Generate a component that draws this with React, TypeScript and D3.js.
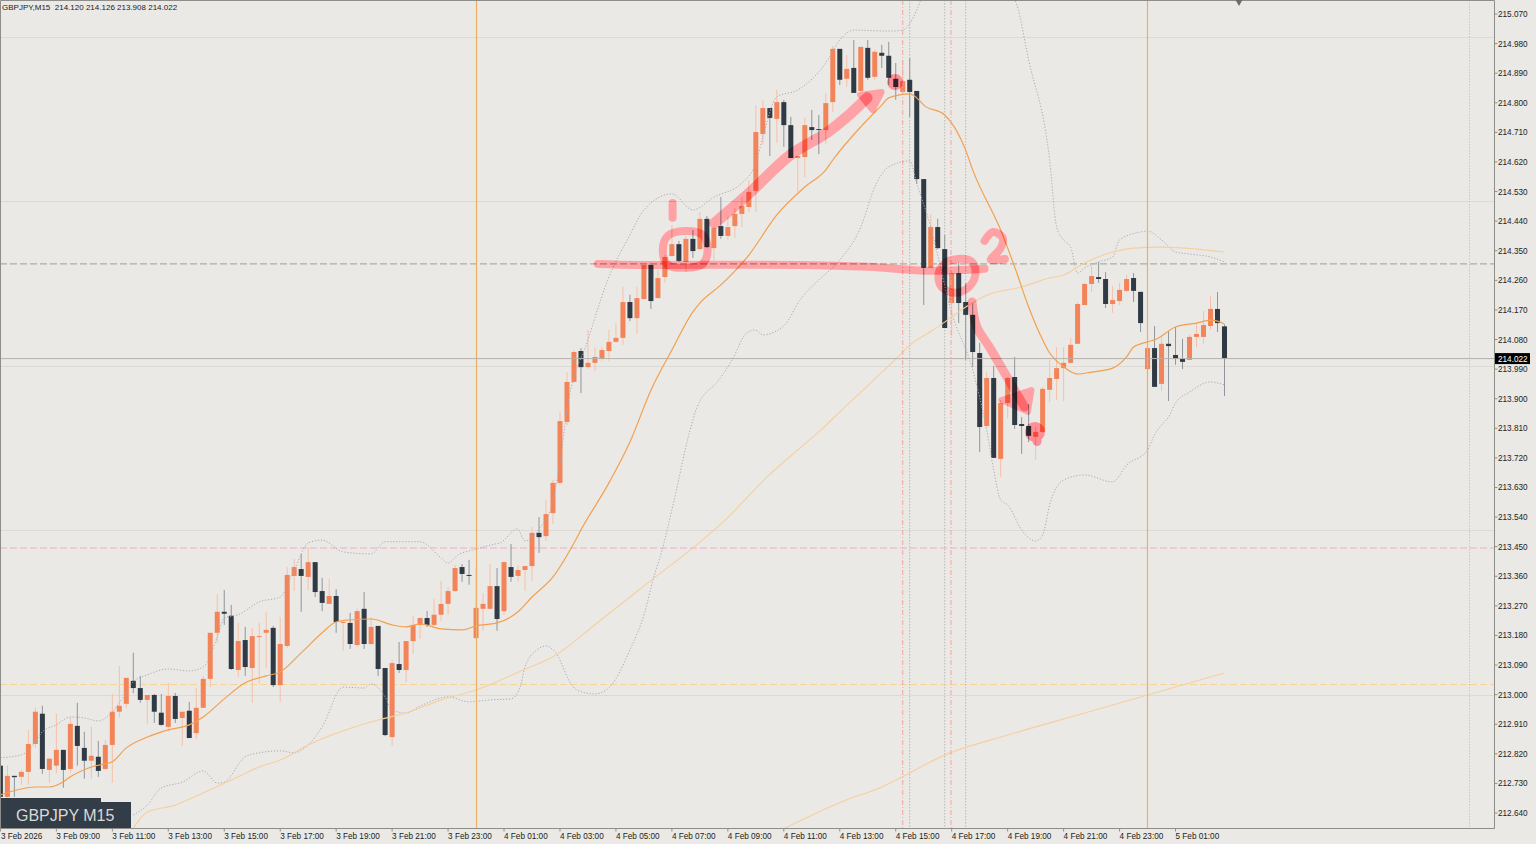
import * as d3 from 'd3'
import { useEffect, useRef } from 'react'

const WIDTH = 1536
const HEIGHT = 844
const PLOT_RIGHT = 1494.5
const PLOT_BOTTOM = 828.5

const BG = '#ebe9e5'
const BULL = '#f3845a'
const BEAR = '#2f3a45'
const PEN = '#ffa2a6'

const opens = [
  212.784,212.689,212.753,212.750,212.765,212.850,212.942,212.771,212.784,212.832,
  212.774,212.905,212.838,212.799,212.811,212.774,212.847,212.948,212.972,213.042,
  213.020,212.984,212.999,212.945,212.902,212.996,212.929,212.951,212.883,212.960,
  213.048,213.188,213.252,213.240,213.075,213.166,213.081,213.175,213.188,213.203,
  213.029,213.148,213.361,213.382,213.358,213.403,213.315,213.276,213.300,213.218,
  213.218,213.151,213.261,213.154,213.209,213.081,212.871,213.093,213.075,213.163,
  213.212,213.233,213.212,213.243,213.276,213.315,213.388,213.364,213.172,213.261,
  213.261,213.330,213.254,213.388,213.361,213.379,213.391,213.492,213.482,213.552,
  213.644,213.829,213.951,214.045,213.996,214.009,214.021,214.045,214.073,214.085,
  214.194,214.145,214.203,214.307,214.206,214.270,214.334,214.370,214.316,214.386,
  214.355,214.447,214.358,214.425,214.395,214.425,214.462,214.483,214.532,214.705,
  214.784,214.751,214.802,214.732,214.632,214.635,214.726,214.720,214.717,214.802,
  214.964,214.873,214.906,214.836,214.967,214.879,214.952,214.943,214.873,214.833,
  214.870,214.836,214.568,214.298,214.422,214.355,214.191,214.282,214.194,214.155,
  214.039,213.817,213.963,213.717,213.887,213.966,213.823,213.817,213.784,213.799,
  213.927,213.960,213.993,214.009,214.067,214.185,214.249,214.270,214.264,214.188,
  214.197,214.228,214.267,214.225,213.990,214.054,213.945,214.067,214.033,214.021,
  214.018,214.088,214.088,214.121,214.173,214.120,
]
const highs = [
  212.802,212.784,212.753,212.771,212.893,212.960,212.966,212.808,212.942,212.832,
  212.932,212.975,212.887,212.902,212.859,212.862,213.002,213.087,213.051,213.127,
  213.057,212.999,213.002,213.002,213.036,213.005,212.948,212.978,213.020,213.057,
  213.188,213.306,213.318,213.273,213.218,213.206,213.203,213.218,213.252,213.209,
  213.236,213.388,213.413,213.428,213.449,213.403,213.355,213.352,213.321,213.227,
  213.249,213.261,213.312,213.236,213.209,213.081,213.106,213.160,213.163,213.240,
  213.233,213.254,213.291,213.346,213.327,213.394,213.397,213.410,213.388,213.309,
  213.397,213.385,213.403,213.458,213.394,213.391,213.510,213.540,213.592,213.653,
  213.860,213.981,214.048,214.054,214.109,214.057,214.057,214.109,214.130,214.240,
  214.216,214.240,214.307,214.307,214.292,214.337,214.428,214.380,214.395,214.413,
  214.468,214.456,214.422,214.513,214.453,214.480,214.513,214.565,214.793,214.809,
  214.784,214.839,214.809,214.757,214.638,214.754,214.778,214.763,214.830,214.973,
  214.964,214.945,214.991,214.970,214.991,214.961,214.976,214.985,214.921,214.930,
  214.936,214.836,214.568,214.459,214.447,214.398,214.285,214.313,214.252,214.191,
  214.070,213.981,214.000,213.896,213.966,214.027,213.844,213.884,213.814,213.936,
  214.018,214.057,214.057,214.085,214.194,214.252,214.304,214.316,214.285,214.243,
  214.252,214.276,214.282,214.225,214.109,214.121,214.088,214.106,214.118,214.082,
  214.094,214.130,214.167,214.212,214.225,214.126,
]
const lows = [
  212.680,212.686,212.689,212.726,212.726,212.838,212.759,212.732,212.762,212.717,
  212.762,212.784,212.744,212.744,212.750,212.771,212.732,212.929,212.960,213.005,
  212.975,212.911,212.914,212.905,212.890,212.914,212.844,212.868,212.865,212.960,
  213.023,213.157,213.212,213.075,213.054,213.057,212.975,213.033,213.081,213.023,
  212.978,213.142,213.315,213.252,213.318,213.297,213.254,213.276,213.188,213.133,
  213.139,213.145,213.139,213.151,213.057,212.874,212.844,213.066,213.039,213.124,
  213.169,213.206,213.209,213.224,213.243,213.312,213.343,213.334,213.169,213.194,
  213.258,213.194,213.243,213.343,213.343,213.315,213.346,213.431,213.467,213.519,
  213.638,213.820,213.948,213.917,213.990,213.984,214.015,214.015,214.070,214.064,
  214.136,214.097,214.203,214.173,214.206,214.252,214.331,214.316,214.285,214.328,
  214.352,214.358,214.322,214.386,214.383,214.389,214.422,214.468,214.468,214.672,
  214.638,214.678,214.666,214.632,214.529,214.574,214.687,214.644,214.675,214.772,
  214.854,214.848,214.830,214.833,214.870,214.870,214.906,214.854,214.809,214.830,
  214.757,214.553,214.185,214.298,214.355,214.115,214.088,214.130,214.018,213.996,
  213.738,213.814,213.720,213.662,213.841,213.808,213.732,213.768,213.714,213.796,
  213.890,213.896,213.893,214.006,214.067,214.185,214.225,214.252,214.176,214.161,
  214.185,214.225,214.194,214.103,213.987,213.936,213.923,213.893,214.003,213.990,
  214.018,214.057,214.067,214.109,214.103,213.908,
]
const closes = [
  212.689,212.753,212.749,212.765,212.850,212.948,212.774,212.805,212.832,212.771,
  212.911,212.844,212.799,212.814,212.768,212.847,212.948,212.966,213.051,213.020,
  212.984,212.999,212.948,212.908,212.996,212.926,212.948,212.868,212.960,213.048,
  213.188,213.252,213.246,213.078,213.163,213.084,213.178,213.178,213.197,213.029,
  213.154,213.364,213.388,213.361,213.403,213.312,213.279,213.300,213.221,213.221,
  213.154,213.254,213.154,213.206,213.078,212.877,213.096,213.075,213.163,213.212,
  213.233,213.212,213.243,213.276,213.315,213.385,213.367,213.361,213.264,213.276,
  213.330,213.230,213.403,213.358,213.379,213.391,213.492,213.479,213.549,213.644,
  213.832,213.951,214.042,213.996,214.009,214.027,214.048,214.073,214.085,214.194,
  214.145,214.206,214.307,214.197,214.267,214.331,214.370,214.319,214.386,214.349,
  214.447,214.361,214.419,214.395,214.422,214.462,214.486,214.529,214.711,214.784,
  214.754,214.802,214.732,214.632,214.638,214.732,214.717,214.717,214.799,214.964,
  214.870,214.903,214.830,214.970,214.876,214.955,214.943,214.876,214.848,214.866,
  214.833,214.568,214.298,214.422,214.358,214.115,214.282,214.191,214.155,214.042,
  213.814,213.963,213.720,213.887,213.963,213.820,213.817,213.787,213.799,213.930,
  213.963,213.993,214.009,214.064,214.188,214.249,214.273,214.264,214.188,214.200,
  214.231,214.264,214.228,214.130,214.054,213.936,214.067,214.060,214.021,214.012,
  214.088,214.097,214.124,214.173,214.130,214.022,
]

type Pt = [number, number]

// indicators as [bar, price]
const maFast: Pt[] = [
  [0,212.695],[5,212.719],[7,212.719],[9,212.735],[10,212.750],[13,212.780],[16,212.796],[18,212.838],
  [21,212.871],[24,212.893],[27,212.908],[29,212.932],[32,212.987],[35,213.036],[38,213.057],[40,213.069],
  [43,213.127],[46,213.188],[48,213.221],[50,213.227],[53,213.230],[56,213.212],[58,213.206],[60,213.215],
  [63,213.200],[66,213.197],[68,213.209],[71,213.218],[74,213.252],[76,213.297],[79,213.358],[82,213.461],
  [83,213.501],[87,213.644],[90,213.768],[93,213.926],[96,214.048],[99,214.164],[100,214.191],[103,214.246],
  [107,214.337],[111,214.459],[115,214.544],[118,214.596],[119,214.626],[123,214.727],[126,214.793],[127,214.815],
  [130,214.827],[131,214.815],[132,214.793],[135,214.763],[138,214.656],[139,214.596],[143,214.413],[145,214.301],
  [147,214.179],[149,214.079],[150,214.039],[151,214.015],[152,213.997],[154,213.975],[156,213.981],[159,213.993],
  [161,214.027],[162,214.057],[164,214.073],[165,214.079],[168,214.118],[171,214.130],[173,214.139],[174,214.136],[175,214.127],
]
const bandUpper: Pt[] = [
  [0,212.808],[3,212.817],[5,212.856],[6,212.887],[8,212.908],[10,212.932],[12,212.929],[14,212.920],[16,212.948],
  [17,212.975],[19,213.039],[21,213.060],[24,213.078],[27,213.072],[29,213.084],[31,213.175],[32,213.233],[34,213.243],
  [37,213.282],[40,213.297],[42,213.379],[44,213.461],[46,213.470],[49,213.434],[53,213.428],[55,213.465],[60,213.465],
  [63,213.416],[64,213.400],[65.4,213.425],[67.6,213.440],[70.7,213.458],[71.4,213.461],[73.9,213.504],[75,213.467],
  [77.1,213.507],[78.6,213.562],[80,213.704],[81,213.866],
  [84,214.079],[87,214.270],[90,214.398],[92,214.474],[96,214.523],[99,214.474],[102,214.513],[106,214.556],[108,214.617],
  [109,214.696],[111,214.818],[114,214.839],[118,214.921],[120,214.991],[122,215.021],[127,215.018],[129,215.021],
  [131,215.082],[132,215.137],[135,215.295],[138,215.386],[141,215.325],[144,215.128],[145,215.113],[147,214.930],
  [150,214.626],[151,214.422],[152,214.383],[153,214.361],[154,214.282],[155,214.298],[157,214.316],[159,214.331],
  [160,214.383],[163,214.407],[164,214.410],[166,214.383],[168,214.346],[170,214.340],[173,214.331],[175,214.316],
]
const bandLower: Pt[] = [
  [19,212.634],[21,212.664],[23,212.716],[26,212.734],[29,212.768],[31,212.731],[32,212.734],[35,212.811],[37,212.823],
  [40,212.829],[42,212.823],[44,212.847],[46,212.902],[49,213.023],[52,213.020],[53,213.033],[55,212.993],[56,212.953],
  [58,212.944],[60,212.965],[64,212.993],[67,212.978],[70,212.984],[73,212.987],
  [74.3,213.023],[75,213.084],[76.7,213.136],[78,213.148],[79.3,213.130],[81.7,213.029],[82.4,213.014],[85,213.002],
  [87.1,213.023],[90,213.136],[92.1,213.249],[93.3,213.349],[94.6,213.440],[96.1,213.571],[98.6,213.805],[99.6,213.875],
  [101,213.921],[102.1,213.942],[104.6,214.018],[106.7,214.100],[107.9,214.109],[109,214.094],[112.1,214.124],[114.3,214.200],
  [117,214.261],[120,214.322],
  [123,214.422],[125,214.544],[127,214.605],[130,214.623],[131,214.556],[133,214.422],[136,214.161],[139,213.987],[141,213.805],
  [142,213.683],[143,213.592],[144,213.577],[146,213.501],[148,213.467],[149,213.485],[150,213.577],[152,213.653],[155,213.668],
  [159,213.647],[161,213.698],[164,213.744],[165,213.790],[166,213.820],[167,213.844],[168,213.887],[170,213.920],[173,213.951],[175,213.942],
]
const maMid: Pt[] = [
  [19,212.594],[21,212.643],[25,212.664],[29,212.701],[33,212.740],[37,212.780],[40,212.801],[44,212.847],[54,212.923],
  [58,212.944],[63,212.984],[68,213.014],[74.7,213.075],[79,213.115],[85.3,213.218],[93.3,213.352],[100,213.464],
  [103.6,213.531],[109.6,213.662],[117.6,213.811],[120,213.860],[128.6,214.033],[130,214.063],[132.9,214.103],
  [135,214.133],[138,214.179],[141,214.215],[146,214.240],
  [150,214.267],[152,214.276],[155,214.313],[159,214.346],[162,214.358],[166,214.361],[171,214.355],[175,214.346],
]
const maSlow: Pt[] = [
  [112,212.592],[121,212.680],[126,212.719],[128,212.740],[135,212.816],[144,212.877],[154,212.938],[164,212.999],[175,213.066],
]

// hand drawn marks on the chart, also [bar, price]
const penLevel: Pt[] = [[85.4,214.310],[91.5,214.307],[114,214.307],[124,214.301],[133,214.289],[140.7,214.295]]
const penRing1: Pt[] = [[94.7,214.352],[95.4,214.395],[97.9,214.410],[100.4,214.398],[101.1,214.352],[100.4,214.310],[97.9,214.298],[95.4,214.307]]
const penRing2: Pt[] = [[134.1,214.273],[134.9,214.310],[136.9,214.325],[138.9,214.316],[139.4,214.282],[138.6,214.243],[136.6,214.222],[134.7,214.237]]
const penOne: Pt[] = [[96.1,214.495],[96.1,214.450]]
const penTwo: Pt[] = [[140.7,214.380],[141.9,214.407],[143.3,214.389],[143,214.358],[141.6,214.322],[143.6,214.325]]
const penArrow1: Pt[] = [[102.1,214.434],[107.1,214.526],[112.9,214.641],[118.1,214.708],[121,214.757],[123.9,214.815]]
const penHead1: Pt[] = [[122.9,214.824],[126,214.833],[124.7,214.778]]
const penArrow2: Pt[] = [[138.9,214.194],[139.6,214.118],[141.4,214.057],[143.9,213.966],[146.4,213.875]]
const penHead2: Pt[] = [[143.1,213.896],[147.4,213.926],[146.9,213.860]]
const penDots: Pt[] = [[127.9,214.863],[147.9,213.799],[148.2,213.770]]
const penDotSizes = [8, 10, 4.5]

const priceTicks = [
  '215.070','214.980','214.890','214.800','214.710','214.620','214.530','214.440','214.350','214.260',
  '214.170','214.080','213.990','213.900','213.810','213.720','213.630','213.540','213.450','213.360',
  '213.270','213.180','213.090','213.000','212.910','212.820','212.730','212.640',
]
const timeLabels = [
  '3 Feb 2026','3 Feb 09:00','3 Feb 11:00','3 Feb 13:00','3 Feb 15:00','3 Feb 17:00','3 Feb 19:00','3 Feb 21:00',
  '3 Feb 23:00','4 Feb 01:00','4 Feb 03:00','4 Feb 05:00','4 Feb 07:00','4 Feb 09:00','4 Feb 11:00','4 Feb 13:00',
  '4 Feb 15:00','4 Feb 17:00','4 Feb 19:00','4 Feb 21:00','4 Feb 23:00','5 Feb 01:00',
]
const roundLevels = [215, 214.5, 214, 213.5, 213]
const dayBars = [68, 164]
const redBars = [129, 135.9]
const greyBars = [130, 135, 138]
const lastPrice = 214.022
const levels = [
  { price: 214.31, color: '#a9b0a4' },
  { price: 213.446, color: '#f2a9cd' },
  { price: 213.031, color: '#f5d49c' },
]

function drawChart(node: SVGSVGElement) {
  const svg = d3.select(node)
  svg.selectAll('*').remove()

  const x = d3.scaleLinear([0, 175], [0.4, 1224.5])
  const y = d3.scaleLinear([212.64, 215.07], [813, 14])

  svg.append('rect').attr('width', WIDTH).attr('height', HEIGHT).attr('fill', BG)
  svg.append('clipPath').attr('id', 'plot').append('rect').attr('width', PLOT_RIGHT).attr('height', PLOT_BOTTOM)

  const plot = svg.append('g').attr('clip-path', 'url(#plot)')

  plot.selectAll('.round').data(roundLevels).join('line')
    .attr('x1', 0).attr('x2', PLOT_RIGHT)
    .attr('y1', (d) => Math.round(y(d)) + 0.5).attr('y2', (d) => Math.round(y(d)) + 0.5)
    .attr('stroke', '#dcdad5').attr('stroke-width', 1)

  plot.selectAll('.level').data(levels).join('line')
    .attr('x1', 0).attr('x2', PLOT_RIGHT)
    .attr('y1', (d) => y(d.price)).attr('y2', (d) => y(d.price))
    .attr('stroke', (d) => d.color).attr('stroke-width', 1.1).attr('stroke-dasharray', '7 3')

  plot.selectAll('.grey').data(greyBars).join('line')
    .attr('x1', (d) => x(d)).attr('x2', (d) => x(d))
    .attr('y1', 0).attr('y2', PLOT_BOTTOM)
    .attr('stroke', '#b9b8b5').attr('stroke-width', 1).attr('stroke-dasharray', '1.5 1.5')
  plot.append('line')
    .attr('x1', 1469.5).attr('x2', 1469.5).attr('y1', 0).attr('y2', PLOT_BOTTOM)
    .attr('stroke', '#c8c7c3').attr('stroke-dasharray', '1.5 1.5')

  const candles = plot.selectAll('.candle').data(d3.range(closes.length)).join('g')
  candles.append('line')
    .attr('x1', (i) => x(i)).attr('x2', (i) => x(i))
    .attr('y1', (i) => y(highs[i])).attr('y2', (i) => y(lows[i]))
    .attr('stroke', (i) => (closes[i] >= opens[i] ? '#f6c0a8' : '#8f959a'))
    .attr('stroke-width', 1)
  candles.append('rect')
    .attr('x', (i) => x(i) - 2.5).attr('width', 5)
    .attr('y', (i) => y(Math.max(opens[i], closes[i])))
    .attr('height', (i) => Math.max(1, Math.abs(y(opens[i]) - y(closes[i]))))
    .attr('fill', (i) => (closes[i] >= opens[i] ? BULL : BEAR))

  const toLine = d3.line<Pt>((d) => x(d[0]), (d) => y(d[1]))
  const toSmooth = toLine.curve(d3.curveMonotoneX)
  const addPath = (data: Pt[], color: string, w: number, dash?: string) =>
    plot.append('path').attr('d', toSmooth(data)).attr('fill', 'none')
      .attr('stroke', color).attr('stroke-width', w).attr('stroke-dasharray', dash ?? null)

  addPath(bandUpper, '#a9a7b4', 1, '1.2 1.8')
  addPath(bandLower, '#a9a7b4', 1, '1.2 1.8')
  addPath(maSlow, '#f5cf9f', 1.1)
  addPath(maMid, '#f5cf9f', 1.1)
  addPath(maFast, '#f2a04e', 1.2)

  plot.selectAll('.day').data(dayBars).join('line')
    .attr('x1', (d) => Math.floor(x(d)) + 0.5).attr('x2', (d) => Math.floor(x(d)) + 0.5)
    .attr('y1', 0).attr('y2', PLOT_BOTTOM)
    .attr('stroke', '#eeb060').attr('stroke-width', 1.2)
  plot.selectAll('.red').data(redBars).join('line')
    .attr('x1', (d) => x(d)).attr('x2', (d) => x(d))
    .attr('y1', 0).attr('y2', PLOT_BOTTOM)
    .attr('stroke', '#f2a3a3').attr('stroke-width', 1).attr('stroke-dasharray', '5 2 1 2')

  plot.append('line')
    .attr('x1', 0).attr('x2', PLOT_RIGHT)
    .attr('y1', y(lastPrice)).attr('y2', y(lastPrice))
    .attr('stroke', '#b3b1ab').attr('stroke-width', 1)

  // pen marks, multiplied so the candles still show through
  const pen = plot.append('g').attr('fill', 'none').attr('stroke', PEN)
    .attr('stroke-linecap', 'round').attr('stroke-linejoin', 'round')
  const penLine = d3.line<Pt>((d) => x(d[0]), (d) => y(d[1])).curve(d3.curveCatmullRom)
  const ring = d3.line<Pt>((d) => x(d[0]), (d) => y(d[1])).curve(d3.curveCatmullRomClosed)
  const stroke = (d: string | null, w: number) =>
    pen.append('path').attr('d', d).attr('stroke-width', w).style('mix-blend-mode', 'multiply')
  stroke(penLine(penLevel), 8)
  stroke(ring(penRing1), 8)
  stroke(ring(penRing2), 8)
  stroke(penLine(penOne), 8)
  stroke(penLine(penTwo), 8)
  stroke(penLine(penArrow1), 11)
  stroke(penLine(penArrow2), 9)
  ;[penHead1, penHead2].forEach((h) => {
    pen.append('path')
      .attr('d', `${d3.line<Pt>((d) => x(d[0]), (d) => y(d[1]))(h)}Z`)
      .attr('fill', PEN).attr('stroke-width', 6).style('mix-blend-mode', 'multiply')
  })
  const dots = plot.append('g').style('mix-blend-mode', 'multiply')
  penDots.forEach((d, i) => {
    dots.append('circle')
      .attr('cx', x(d[0])).attr('cy', y(d[1])).attr('r', penDotSizes[i])
      .attr('fill', '#ff8f96')
  })

  // symbol box
  const box = svg.append('g')
  box.append('rect').attr('x', 0).attr('y', 798).attr('width', 101).attr('height', 6).attr('fill', '#333d47')
  box.append('rect').attr('x', 0).attr('y', 802).attr('width', 131).attr('height', 26.5).attr('fill', '#333d47')
  box.append('text').attr('x', 16).attr('y', 821)
    .attr('font-family', '"Liberation Sans"').attr('font-size', 16).attr('fill', '#d9d9d6')
    .text('GBPJPY M15')

  // frame
  const frame = svg.append('g').attr('stroke', '#8d8d8a').attr('fill', 'none')
  frame.append('path').attr('d', `M0.5,${PLOT_BOTTOM}V0.5H${PLOT_RIGHT}V${PLOT_BOTTOM}H0.5`)

  const font = '"Liberation Sans", sans-serif'
  const right = svg.append('g').attr('font-family', font).attr('font-size', 8.2).attr('fill', '#222')
  priceTicks.forEach((t) => {
    const py = y(+t)
    right.append('line').attr('x1', PLOT_RIGHT).attr('x2', PLOT_RIGHT + 3)
      .attr('y1', py).attr('y2', py).attr('stroke', '#8d8d8a')
    right.append('text').attr('x', 1498).attr('y', py + 3).text(t)
  })
  right.append('rect').attr('x', 1495).attr('y', y(lastPrice) - 5.5).attr('width', 35).attr('height', 11).attr('fill', '#000')
  right.append('text').attr('x', 1498).attr('y', y(lastPrice) + 3).attr('fill', '#fff').text(lastPrice.toFixed(3))

  const bottom = svg.append('g').attr('font-family', font).attr('font-size', 8.2).attr('fill', '#222')
  timeLabels.forEach((t, i) => {
    const tx = x(i * 8)
    bottom.append('line').attr('x1', tx).attr('x2', tx).attr('y1', PLOT_BOTTOM).attr('y2', PLOT_BOTTOM + 3)
      .attr('stroke', '#8d8d8a')
    bottom.append('text').attr('x', tx + (i === 0 ? 0.5 : 0)).attr('y', 838.5).text(t)
  })

  svg.append('text').attr('x', 2).attr('y', 9.5)
    .attr('font-family', font).attr('font-size', 8).attr('fill', '#222').attr('xml:space', 'preserve')
    .text('GBPJPY,M15  214.120 214.126 213.908 214.022')

  // marker on the top edge
  svg.append('path').attr('d', d3.symbol(d3.symbolDiamond, 40)()).attr('transform', 'translate(1239,0)').attr('fill', '#6b6b6b')
}

export default function App() {
  const ref = useRef<SVGSVGElement>(null)
  useEffect(() => {
    if (ref.current) drawChart(ref.current)
  }, [])
  return (
    <svg
      ref={ref}
      width={WIDTH}
      height={HEIGHT}
      viewBox={`0 0 ${WIDTH} ${HEIGHT}`}
      style={{ position: 'absolute', left: 0, top: 0, display: 'block' }}
    />
  )
}
